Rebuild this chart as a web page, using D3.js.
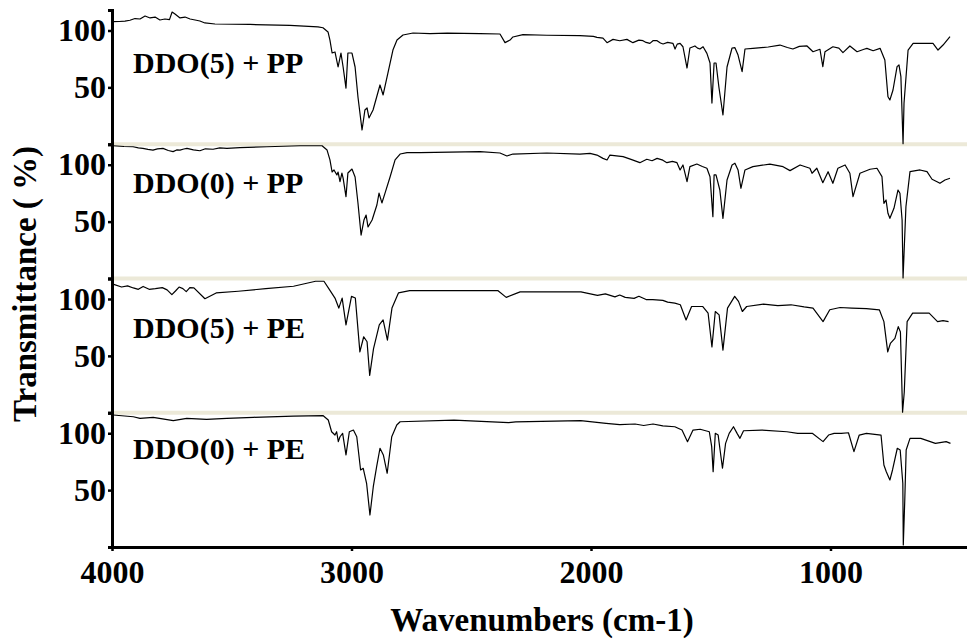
<!DOCTYPE html>
<html><head><meta charset="utf-8">
<script src="https://cdn.jsdelivr.net/npm/d3@7"></script>
<style>
body{margin:0;background:#fff}
svg{display:block}
text{font-family:"Liberation Serif","Times New Roman",serif;font-weight:bold;fill:#000}
</style>
</head><body>
<svg id="c" width="967" height="642"></svg>
<script>
// ---- data (wavenumber cm-1, transmittance %) ----
const panelLabels = ["DDO(5) + PP", "DDO(0) + PP", "DDO(5) + PE", "DDO(0) + PE"];
const yTickValues = [50, 100];
const xTickValues = [4000, 3000, 2000, 1000];
const xTitle = "Wavenumbers (cm-1)";
const yTitle = "Transmittance ( %)";

const spec1 = [[3996,107.7],[3970,107.9],[3946,108.3],[3925,109.0],[3904,110.5],[3883,110.1],[3862,112.7],[3841,111.0],[3820,111.8],[3800,109.2],[3779,110.1],[3760,109.5],[3749,116.2],[3737,114.5],[3716,111.0],[3695,111.8],[3674,110.1],[3653,109.2],[3633,108.3],[3612,106.6],[3570,105.7],[3424,105.3],[3257,104.4],[3140,103.1],[3119,102.4],[3098,98.7],[3090,91.6],[3081,80.2],[3069,81.1],[3056,67.9],[3044,80.2],[3035,67.9],[3023,49.4],[3015,80.2],[2998,80.2],[2985,67.9],[2973,41.5],[2956,12.5],[2944,30.1],[2935,31.9],[2927,23.1],[2910,30.1],[2881,52.1],[2868,43.3],[2848,62.6],[2827,82.8],[2810,91.6],[2785,96.0],[2743,97.8],[2672,97.2],[2600,97.6],[2463,97.2],[2380,96.9],[2359,89.3],[2338,91.6],[2326,94.3],[2284,96.3],[2184,95.8],[2046,95.4],[1990,94.8],[1975,94.0],[1950,93.2],[1933,89.3],[1908,92.2],[1880,91.0],[1850,92.2],[1825,89.3],[1800,91.5],[1783,91.0],[1770,89.5],[1754,88.7],[1740,91.2],[1724,91.0],[1710,89.0],[1699,88.1],[1680,89.5],[1658,88.7],[1649,83.7],[1640,88.0],[1628,88.7],[1616,85.7],[1599,67.0],[1587,84.6],[1566,86.4],[1555,84.5],[1545,83.7],[1532,85.7],[1516,79.9],[1503,71.4],[1495,36.2],[1486,71.4],[1478,71.4],[1466,50.3],[1449,25.7],[1432,67.9],[1411,84.6],[1399,84.9],[1386,78.4],[1369,63.8],[1357,83.7],[1324,84.3],[1260,85.5],[1211,87.2],[1180,85.0],[1157,83.7],[1130,86.0],[1098,86.4],[1073,81.3],[1044,83.5],[1032,68.2],[1023,81.3],[990,85.7],[965,84.5],[948,80.5],[919,86.4],[889,81.3],[860,83.5],[848,84.3],[822,82.2],[793,84.3],[773,74.0],[760,41.8],[752,38.9],[739,47.7],[722,68.2],[714,69.7],[706,59.4],[697,0.5],[693,36.0],[676,82.8],[655,88.7],[572,88.7],[551,82.8],[530,87.2],[501,94.5]];

const spec2 = [[3996,116.7],[3950,116.0],[3912,115.8],[3890,114.8],[3871,114.4],[3850,113.5],[3829,112.9],[3810,114.0],[3787,114.4],[3765,112.5],[3745,111.5],[3730,113.0],[3716,112.9],[3700,113.8],[3687,114.4],[3660,113.0],[3633,112.3],[3610,114.0],[3578,113.6],[3550,114.8],[3520,114.4],[3466,115.0],[3353,115.8],[3215,116.7],[3123,116.7],[3102,112.9],[3090,104.2],[3081,93.6],[3073,95.4],[3061,91.0],[3056,93.6],[3048,85.1],[3040,92.7],[3035,88.3],[3023,71.9],[3015,92.7],[2998,96.2],[2985,89.2],[2973,66.4],[2960,38.2],[2948,51.4],[2939,55.8],[2931,45.3],[2914,51.4],[2894,64.6],[2885,75.1],[2873,66.4],[2860,75.1],[2839,89.2],[2818,104.2],[2797,109.4],[2768,110.6],[2714,110.6],[2463,111.5],[2380,110.3],[2351,107.7],[2326,109.4],[2184,110.3],[2046,109.4],[2004,110.0],[1975,108.5],[1950,105.6],[1933,104.2],[1921,108.5],[1866,107.1],[1830,104.5],[1796,101.8],[1767,104.8],[1745,103.5],[1724,105.6],[1700,104.0],[1683,101.8],[1660,103.0],[1641,101.8],[1628,95.4],[1616,99.8],[1599,85.1],[1587,98.3],[1558,100.6],[1535,98.5],[1516,96.9],[1503,89.5],[1491,54.3],[1486,91.0],[1478,91.0],[1462,77.8],[1449,52.9],[1432,86.6],[1411,99.8],[1399,101.3],[1386,95.4],[1374,79.3],[1357,95.4],[1324,98.3],[1253,100.6],[1198,98.3],[1169,94.8],[1127,99.8],[1086,96.9],[1077,92.5],[1057,96.9],[1032,84.2],[1010,93.9],[990,83.7],[969,96.9],[939,99.8],[919,92.5],[906,71.9],[877,92.5],[835,96.0],[806,96.9],[785,89.5],[777,66.1],[768,69.0],[760,57.3],[752,52.9],[735,61.7],[718,77.8],[710,74.9],[701,51.4],[697,0.5],[685,63.1],[668,93.9],[626,95.4],[597,93.9],[576,87.2],[555,85.1],[543,83.7],[522,86.6],[501,88.1]];

const spec3 = [[3999,113.3],[3960,110.5],[3935,111.5],[3911,109.7],[3890,108.5],[3870,111.0],[3845,108.5],[3819,109.1],[3790,110.0],[3770,108.0],[3750,103.8],[3735,107.0],[3720,110.5],[3704,109.1],[3690,106.5],[3675,110.0],[3658,109.7],[3612,100.2],[3565,105.3],[3473,106.8],[3358,109.1],[3242,111.2],[3150,115.6],[3115,115.6],[3092,108.2],[3069,100.8],[3053,92.0],[3039,100.8],[3023,77.2],[3000,102.3],[2984,100.8],[2965,53.5],[2949,66.8],[2935,62.4],[2924,32.8],[2908,56.4],[2884,77.2],[2868,81.6],[2850,63.8],[2831,92.0],[2804,105.3],[2757,107.3],[2388,107.3],[2354,101.4],[2296,106.2],[2042,106.2],[1973,103.2],[1940,104.5],[1900,101.8],[1880,103.5],[1857,101.4],[1820,100.5],[1800,102.4],[1770,99.5],[1742,99.4],[1700,98.8],[1680,97.2],[1650,96.4],[1627,94.9],[1603,81.6],[1580,93.4],[1534,93.4],[1511,87.5],[1495,57.9],[1481,89.0],[1465,86.0],[1449,55.0],[1430,92.0],[1400,102.3],[1384,97.9],[1368,89.0],[1350,93.4],[1280,95.5],[1220,94.2],[1165,94.9],[1110,93.0],[1073,92.0],[1031,80.1],[1003,90.5],[960,92.5],[911,92.0],[850,91.5],[796,90.5],[777,80.1],[761,53.5],[750,60.9],[731,65.3],[717,75.7],[708,71.0],[699,0.5],[692,18.0],[680,80.1],[657,87.5],[588,87.5],[553,80.1],[530,81.0],[507,80.1]];

const spec4 = [[3995,116.0],[3911,114.5],[3883,113.1],[3828,114.0],[3744,111.0],[3688,113.1],[3605,112.2],[3521,113.1],[3410,114.0],[3243,115.1],[3118,115.4],[3097,111.6],[3083,101.3],[3069,98.4],[3062,101.3],[3055,92.6],[3048,96.9],[3037,99.9],[3023,80.9],[3009,101.3],[2992,102.8],[2978,96.9],[2962,67.7],[2951,69.2],[2937,56.0],[2923,28.1],[2909,53.0],[2895,70.6],[2881,86.8],[2867,80.9],[2851,64.8],[2832,96.9],[2811,107.2],[2797,110.1],[2572,111.6],[2344,109.3],[2314,109.9],[2043,111.0],[1937,108.7],[1880,107.5],[1816,108.1],[1780,106.8],[1741,108.1],[1700,106.5],[1650,105.7],[1620,102.8],[1597,92.6],[1574,102.8],[1544,103.5],[1506,101.3],[1496,88.2],[1490,66.2],[1481,99.9],[1469,98.4],[1461,85.3],[1451,69.2],[1438,91.1],[1423,99.9],[1405,105.7],[1390,99.9],[1378,95.5],[1363,102.2],[1287,102.8],[1182,101.3],[1137,99.9],[1076,99.9],[1031,92.6],[1008,98.4],[985,99.9],[955,99.9],[925,100.4],[902,83.8],[880,98.4],[850,99.9],[789,98.4],[777,72.1],[767,66.2],[752,58.9],[741,67.7],[721,86.8],[709,85.3],[698,56.0],[696,1.8],[690,40.0],[684,85.3],[668,95.5],[623,95.5],[562,91.1],[517,92.6],[499,91.1]];

const spectra = [spec1, spec2, spec3, spec4];

// ---- layout ----
const plotLeft = 112, plotRight = 967, plotTop = 10, plotBottom = 547;
const panelH = (plotBottom - plotTop) / spectra.length;
const labelBaselines = [73, 193, 338, 459];

const svg = d3.select("#c");
const x = d3.scaleLinear().domain([4000, 430]).range([plotLeft, plotRight]);

const yScales = spectra.map((_, i) => {
  const y0 = plotTop + i * panelH;
  return d3.scaleLinear().domain([0, 118]).range([y0 + panelH, y0]);
});

// separators
yScales.forEach((y, i) => {
  if (i === 0) return;
  svg.append("line")
    .attr("x1", plotLeft).attr("x2", plotRight)
    .attr("y1", y.range()[1]).attr("y2", y.range()[1])
    .attr("stroke", "#ECE9D8").attr("stroke-width", 4);
});

// spectra
spectra.forEach((data, i) => {
  const y = yScales[i];
  const line = d3.line().x(d => x(d[0])).y(d => y(d[1]));
  svg.append("path").datum(data)
    .attr("d", line)
    .attr("fill", "none").attr("stroke", "#000").attr("stroke-width", 1.2)
    .attr("stroke-linejoin", "round");
  svg.append("text")
    .attr("x", 133).attr("y", labelBaselines[i])
    .attr("font-size", 30)
    .text(panelLabels[i]);
});

// y axes
yScales.forEach((y) => {
  const g = svg.append("g").attr("transform", `translate(${plotLeft},0)`)
    .call(d3.axisLeft(y).tickValues(yTickValues).tickSize(4).tickSizeOuter(4).tickPadding(2).tickFormat(d3.format("d")));
  g.attr("font-family", null).attr("font-size", null);
  g.select(".domain").attr("stroke", "#000").attr("stroke-width", 3);
  g.selectAll(".tick line").attr("stroke", "#000").attr("stroke-width", 2.5);
  g.selectAll(".tick text").attr("font-size", 32).style("fill", "#000");
});

// x axis
const gx = svg.append("g").attr("transform", `translate(0,${plotBottom})`)
  .call(d3.axisBottom(x).tickValues(xTickValues).tickSize(4).tickSizeOuter(0).tickPadding(9).tickFormat(d3.format("d")));
gx.attr("font-family", null).attr("font-size", null);
gx.select(".domain").attr("stroke", "#000").attr("stroke-width", 3);
gx.selectAll(".tick line").attr("stroke", "#000").attr("stroke-width", 2.5);
gx.selectAll(".tick text").attr("font-size", 32).style("fill", "#000");

// titles
svg.append("text").attr("x", 542).attr("y", 631).attr("text-anchor", "middle")
  .attr("font-size", 33).text(xTitle);
svg.append("text").attr("transform", "translate(36,284) rotate(-90)").attr("text-anchor", "middle")
  .attr("font-size", 33).text(yTitle);
</script>
</body></html>
